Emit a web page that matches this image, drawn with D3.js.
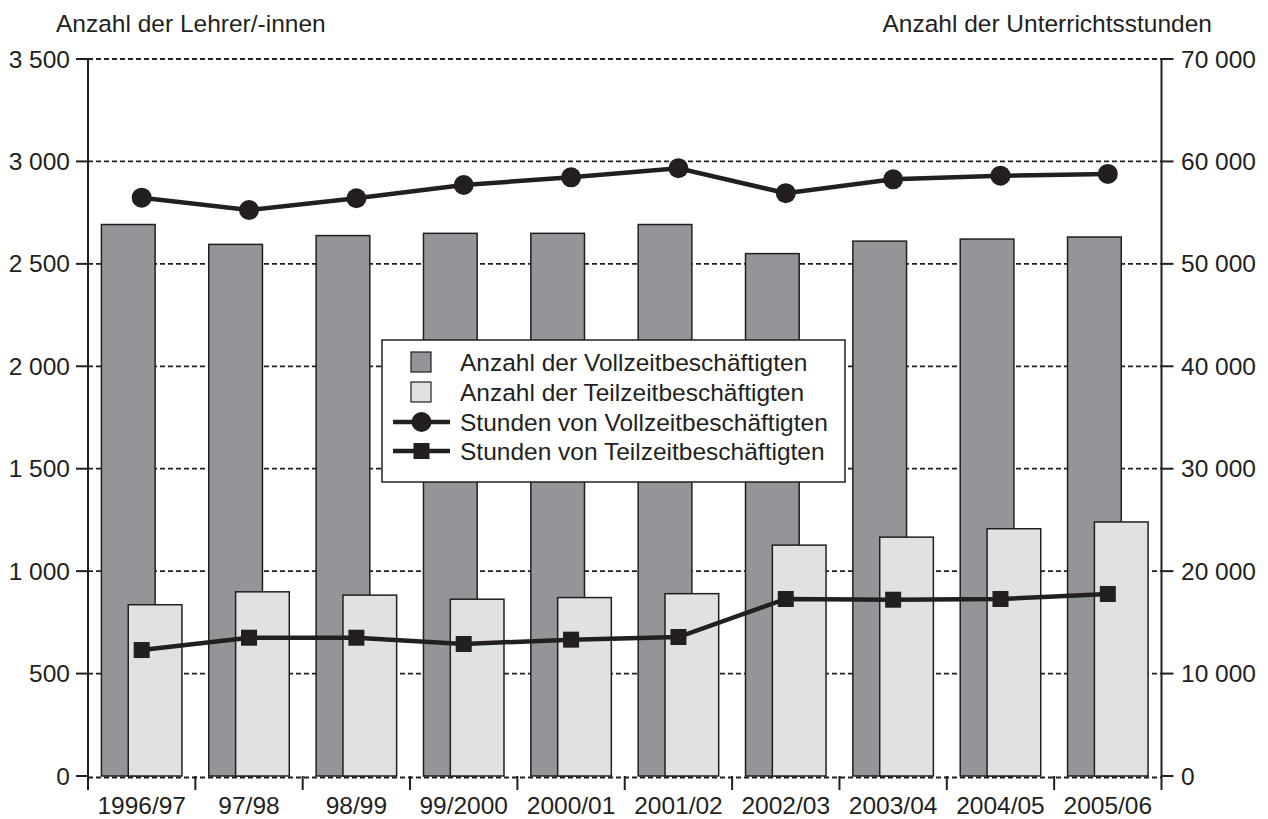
<!DOCTYPE html>
<html>
<head>
<meta charset="utf-8">
<script src="https://cdn.jsdelivr.net/npm/d3@7"></script>
<style>
  html, body { margin: 0; padding: 0; background: #fff; }
  svg { display: block; }
  text { font-family: "Liberation Sans", Arial, Helvetica, sans-serif; fill: #231f20; }
</style>
</head>
<body>
<svg id="chart" width="1268" height="819"></svg>
<script>
const categories = ["1996/97","97/98","98/99","99/2000","2000/01","2001/02","2002/03","2003/04","2004/05","2005/06"];
const fullTimeCount = [2692, 2595, 2638, 2649, 2649, 2692, 2550, 2611, 2621, 2631];
const partTimeCount = [836, 899, 883, 863, 871, 890, 1127, 1166, 1207, 1240];
const fullTimeHours = [56460, 55260, 56400, 57700, 58450, 59330, 56900, 58250, 58610, 58780];
const partTimeHours = [12300, 13500, 13500, 12890, 13310, 13570, 17280, 17210, 17280, 17770];
const leftTicks = [0, 500, 1000, 1500, 2000, 2500, 3000, 3500];
const rightTicks = [0, 10000, 20000, 30000, 40000, 50000, 60000, 70000];
const leftTitle = "Anzahl der Lehrer/-innen";
const rightTitle = "Anzahl der Unterrichtsstunden";
const legendLabels = ["Anzahl der Vollzeitbeschäftigten","Anzahl der Teilzeitbeschäftigten","Stunden von Vollzeitbeschäftigten","Stunden von Teilzeitbeschäftigten"];

const INK = "#231f20", DARK = "#939598", LIGHT = "#e0e1e3";
const FS = 24.5;
const svg = d3.select("#chart");
const L = 88, R = 1161.5, T = 59, B = 776;

const x = d3.scaleBand().domain(categories).range([L, R]).padding(0);
const yL = d3.scaleLinear().domain([0, 3500]).range([B, T]);
const yR = d3.scaleLinear().domain([0, 70000]).range([B, T]);
const fmt = v => d3.format(",")(v).replace(/,/g, " ");
const bw = x.bandwidth();

// gridlines
svg.append("g").selectAll("line").data(leftTicks).join("line")
  .attr("x1", L).attr("x2", R)
  .attr("y1", d => yL(d) + (d === 0 ? 1.5 : 0)).attr("y2", d => yL(d) + (d === 0 ? 1.5 : 0))
  .attr("stroke", INK).attr("stroke-width", 1.8).attr("stroke-dasharray", "5,3");

// bars
svg.append("g").selectAll("rect").data(categories).join("rect")
  .attr("x", d => x(d) + bw * 0.125).attr("width", bw * 0.5)
  .attr("y", (d, i) => yL(fullTimeCount[i])).attr("height", (d, i) => yL(0) - yL(fullTimeCount[i]))
  .attr("fill", DARK).attr("stroke", INK).attr("stroke-width", 1.5);
svg.append("g").selectAll("rect").data(categories).join("rect")
  .attr("x", d => x(d) + bw * 0.375).attr("width", bw * 0.5)
  .attr("y", (d, i) => yL(partTimeCount[i])).attr("height", (d, i) => yL(0) - yL(partTimeCount[i]))
  .attr("fill", LIGHT).attr("stroke", INK).attr("stroke-width", 1.5);

// axes
const axG = svg.append("g").attr("stroke", INK).attr("stroke-width", 2);
axG.append("line").attr("x1", L).attr("x2", L).attr("y1", T).attr("y2", B + 14);
axG.append("line").attr("x1", R).attr("x2", R).attr("y1", T).attr("y2", B + 14);
axG.selectAll(".lt").data(leftTicks).join("line").attr("class", "lt")
  .attr("x1", L - 12).attr("x2", L).attr("y1", d => yL(d)).attr("y2", d => yL(d));
axG.selectAll(".rt").data(rightTicks).join("line").attr("class", "rt")
  .attr("x1", R).attr("x2", R + 12).attr("y1", d => yR(d)).attr("y2", d => yR(d));
axG.selectAll(".ct").data(categories.slice(1)).join("line").attr("class", "ct")
  .attr("x1", d => x(d)).attr("x2", d => x(d)).attr("y1", B).attr("y2", B + 14);

svg.append("g").selectAll("text").data(leftTicks).join("text")
  .attr("x", 70).attr("y", d => yL(d)).attr("dy", "0.35em").attr("text-anchor", "end")
  .attr("font-size", FS).text(d => fmt(d));
svg.append("g").selectAll("text").data(rightTicks).join("text")
  .attr("x", 1181).attr("y", d => yR(d)).attr("dy", "0.35em").attr("text-anchor", "start")
  .attr("font-size", FS).text(d => fmt(d));
svg.append("g").selectAll("text").data(categories).join("text")
  .attr("x", d => x(d) + bw / 2).attr("y", 814).attr("text-anchor", "middle")
  .attr("font-size", FS).text(d => d);

svg.append("text").attr("x", 56).attr("y", 32).attr("font-size", FS).text(leftTitle);
svg.append("text").attr("x", 1212).attr("y", 32).attr("text-anchor", "end").attr("font-size", FS).text(rightTitle);

// lines
const cx = d => x(d) + bw / 2;
const lineGen = d3.line().x((d, i) => cx(categories[i])).y(d => yR(d));
svg.append("path").attr("d", lineGen(fullTimeHours)).attr("fill", "none").attr("stroke", INK).attr("stroke-width", 4.5);
svg.append("g").selectAll("circle").data(fullTimeHours).join("circle")
  .attr("cx", (d, i) => cx(categories[i])).attr("cy", d => yR(d)).attr("r", 10).attr("fill", INK);
svg.append("path").attr("d", lineGen(partTimeHours)).attr("fill", "none").attr("stroke", INK).attr("stroke-width", 4.5);
svg.append("g").selectAll("rect").data(partTimeHours).join("rect")
  .attr("x", (d, i) => cx(categories[i]) - 8).attr("y", d => yR(d) - 8)
  .attr("width", 16).attr("height", 16).attr("fill", INK);

// legend
const lg = svg.append("g");
lg.append("rect").attr("x", 382).attr("y", 340).attr("width", 463).attr("height", 142)
  .attr("fill", "#fff").attr("stroke", INK).attr("stroke-width", 1.5);
const rowY = [362, 392, 422, 451];
lg.append("rect").attr("x", 411).attr("y", rowY[0] - 10).attr("width", 20).attr("height", 20)
  .attr("fill", DARK).attr("stroke", INK).attr("stroke-width", 1.2);
lg.append("rect").attr("x", 411).attr("y", rowY[1] - 10).attr("width", 20).attr("height", 20)
  .attr("fill", LIGHT).attr("stroke", INK).attr("stroke-width", 1.2);
[2, 3].forEach(k => lg.append("line").attr("x1", 393).attr("x2", 450).attr("y1", rowY[k]).attr("y2", rowY[k])
  .attr("stroke", INK).attr("stroke-width", 4.5));
lg.append("circle").attr("cx", 421.5).attr("cy", rowY[2]).attr("r", 10).attr("fill", INK);
lg.append("rect").attr("x", 413.5).attr("y", rowY[3] - 8).attr("width", 16).attr("height", 16).attr("fill", INK);
lg.selectAll("text.lg").data(legendLabels).join("text").attr("class", "lg")
  .attr("x", 460).attr("y", (d, i) => rowY[i]).attr("dy", "0.35em").attr("font-size", FS).text(d => d);
</script>
</body>
</html>
